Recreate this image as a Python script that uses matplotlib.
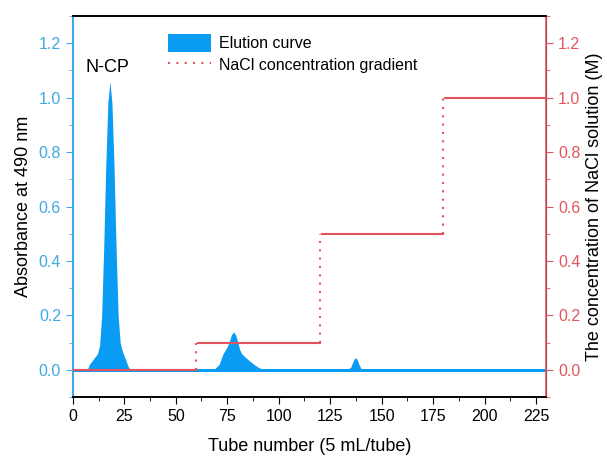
import matplotlib
matplotlib.use("Agg")
import matplotlib.pyplot as plt
from matplotlib.patches import Patch
from matplotlib.lines import Line2D
from matplotlib.ticker import MultipleLocator

plt.rcParams['font.family'] = ['Liberation Sans', 'DejaVu Sans']

# elution curve (tube number, absorbance at 490 nm)
tube = [0, 7, 8, 10, 12, 13, 14, 15, 16, 17, 18, 19, 20, 21, 22, 23, 24, 25, 26, 27, 28,
        67, 69, 71, 73, 75, 76, 77, 78, 79, 80, 81, 82, 84, 86, 88, 90, 93,
        133, 135, 136, 137, 138, 139, 140, 142,
        192, 194, 196, 198, 200, 230]
absorb = [0, 0, 0.02, 0.04, 0.06, 0.09, 0.2, 0.45, 0.75, 0.98, 1.06, 0.98, 0.75, 0.45, 0.2, 0.1, 0.07, 0.05, 0.03, 0.01, 0,
          0, 0.005, 0.02, 0.06, 0.085, 0.105, 0.128, 0.14, 0.13, 0.105, 0.075, 0.06, 0.045, 0.032, 0.02, 0.01, 0,
          0, 0.01, 0.03, 0.045, 0.04, 0.02, 0.005, 0,
          0, 0.003, 0.005, 0.003, 0, 0]

# NaCl step gradient
step_start = [0, 61, 121, 181]
step_end = [60, 120, 180, 230]
step_conc = [0.0, 0.1, 0.5, 1.0]

blue = '#0a9cf2'
blue_ax = '#3fa9e3'
red = '#e2555f'

fig = plt.figure(figsize=(6.07, 4.57), dpi=100)
ax = fig.add_axes([0.120, 0.131, 0.780, 0.834])
ax2 = ax.twinx()

ax.fill_between(tube, 0, absorb, color=blue, lw=0)
ax.plot([0, 230], [0, 0], color=blue, lw=2.2, zorder=3)
ax.text(17, 1.08, 'N-CP', ha='center', va='bottom', fontsize=13)

for i in range(len(step_conc)):
    ax2.plot([step_start[i], step_end[i]], [step_conc[i], step_conc[i]], color=red, lw=1.5, zorder=4)
    if i > 0:
        ax2.plot([step_end[i - 1], step_end[i - 1]], [step_conc[i - 1], step_conc[i]],
                 color=red, lw=1.5, ls=(0, (1, 3)))

for a in (ax, ax2):
    a.set_xlim(0, 230)
    a.set_ylim(-0.1, 1.3)
    a.yaxis.set_major_locator(MultipleLocator(0.2))
    a.yaxis.set_minor_locator(MultipleLocator(0.1))
    a.yaxis.set_major_formatter(matplotlib.ticker.FormatStrFormatter('%.1f'))

ax.xaxis.set_major_locator(MultipleLocator(25))
ax.xaxis.set_minor_locator(MultipleLocator(12.5))
ax.tick_params(axis='x', which='both', direction='out', labelsize=11.5)
ax.tick_params(axis='x', which='major', length=5)
ax.tick_params(axis='x', which='minor', length=3)

ax.tick_params(axis='y', which='both', colors=blue_ax, labelsize=11.5)
ax.tick_params(axis='y', which='major', length=5)
ax.tick_params(axis='y', which='minor', length=3)
ax2.tick_params(axis='y', which='both', colors=red, labelsize=11.5)
ax2.tick_params(axis='y', which='major', length=5)
ax2.tick_params(axis='y', which='minor', length=3)

ax.spines['left'].set_color(blue_ax)
ax.spines['left'].set_linewidth(1.5)
ax2.spines['left'].set_visible(False)
ax2.spines['right'].set_color(red)
ax2.spines['right'].set_linewidth(1.2)
for s in ('top', 'bottom'):
    ax.spines[s].set_linewidth(1.2)
    ax2.spines[s].set_linewidth(1.2)

ax.set_xlabel('Tube number (5 mL/tube)', fontsize=13, labelpad=10)
ax.set_ylabel('Absorbance at 490 nm', fontsize=13, labelpad=5)
ax2.set_ylabel('The concentration of NaCl solution (M)', fontsize=13, labelpad=4)

handles = [Patch(facecolor=blue, edgecolor='none'),
           Line2D([], [], color=red, lw=1.5, ls=(0, (1, 3)))]
ax.legend(handles, ['Elution curve', 'NaCl concentration gradient'],
          loc='upper left', bbox_to_anchor=(0.17, 0.99), frameon=False,
          fontsize=11.5, handlelength=2.7, handleheight=1.3, labelspacing=0.25,
          handletextpad=0.5)

fig.savefig('out.png', dpi=100)
